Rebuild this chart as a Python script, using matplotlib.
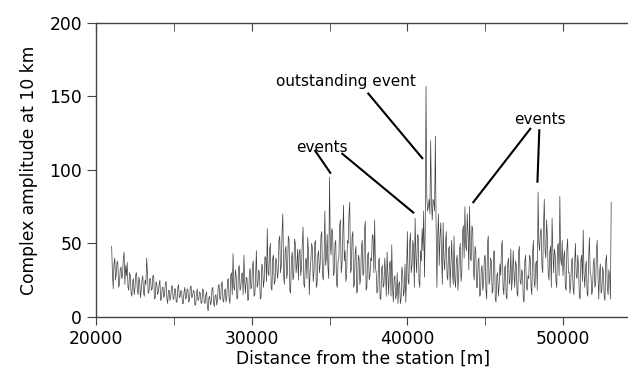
import numpy as np
import matplotlib
matplotlib.use("Agg")
import matplotlib.pyplot as plt
from matplotlib.ticker import MultipleLocator

# distance samples every 50 m, 21000 .. 53100
distance = np.arange(21000, 53101, 50)

amplitude = [
    48, 30, 19, 36, 40, 25, 30, 38, 36, 20, 22, 32, 34, 26, 28, 40, 44, 22, 35, 28,   # 21000
    37, 20, 18, 30, 28, 16, 14, 24, 26, 15, 20, 29, 30, 18, 15, 27, 24, 13, 18, 25,   # 22000
    28, 16, 14, 25, 22, 40, 30, 16, 17, 26, 26, 18, 19, 28, 28, 12, 13, 24, 22, 15,   # 23000
    17, 22, 25, 11, 12, 20, 20, 13, 15, 23, 24, 12, 9, 18, 18, 11, 14, 21, 21, 12,    # 24000
    12, 19, 19, 10, 10, 20, 22, 13, 14, 18, 17, 9, 9, 17, 20, 12, 13, 19, 18, 10,     # 25000
    11, 20, 21, 13, 14, 18, 17, 8, 8, 16, 19, 11, 12, 17, 16, 9, 10, 19, 18, 10,      # 26000
    9, 15, 17, 7, 4, 13, 14, 8, 10, 19, 20, 9, 7, 14, 15, 8, 11, 21, 22, 12,          # 27000
    12, 22, 24, 11, 10, 18, 19, 10, 14, 25, 26, 12, 9, 28, 30, 15, 43, 20, 18, 32,    # 28000
    28, 12, 13, 33, 35, 18, 20, 29, 30, 15, 42, 24, 16, 27, 26, 11, 12, 30, 33, 19,   # 29000
    20, 35, 38, 14, 15, 28, 45, 20, 22, 32, 30, 12, 13, 36, 34, 20, 25, 41, 40, 24,   # 30000
    60, 30, 28, 46, 50, 20, 18, 40, 42, 22, 24, 40, 38, 26, 30, 52, 55, 30, 35, 58,   # 31000
    70, 28, 22, 45, 48, 26, 30, 55, 52, 18, 16, 40, 44, 25, 28, 53, 50, 30, 35, 46,   # 32000
    25, 44, 46, 28, 33, 50, 61, 22, 20, 38, 40, 26, 54, 44, 15, 30, 38, 50, 47, 24,   # 33000
    30, 50, 52, 20, 22, 42, 45, 30, 36, 55, 58, 28, 25, 40, 72, 35, 40, 56, 33, 26,   # 34000
    95, 50, 42, 60, 58, 28, 30, 50, 52, 22, 20, 38, 40, 62, 66, 30, 35, 55, 76, 38,   # 35000
    45, 24, 28, 52, 50, 70, 78, 30, 32, 55, 58, 20, 22, 44, 48, 16, 18, 42, 40, 22,   # 36000
    26, 48, 52, 28, 30, 60, 65, 18, 20, 42, 44, 25, 28, 40, 38, 56, 55, 30, 66, 34,   # 37000
    30, 16, 18, 38, 40, 12, 12, 33, 35, 20, 22, 40, 30, 14, 44, 28, 15, 36, 38, 14,   # 38000
    49, 20, 10, 26, 28, 12, 15, 30, 9, 22, 24, 9, 12, 34, 30, 14, 18, 36, 10, 28,     # 39000
    58, 25, 22, 50, 57, 30, 35, 52, 48, 20, 67, 40, 30, 56, 55, 24, 20, 45, 38, 60,   # 40000
    45, 72, 27, 60, 157, 82, 72, 75, 80, 70, 120, 78, 66, 80, 78, 72, 123, 60, 20, 55,  # 41000
    70, 35, 55, 64, 40, 22, 64, 38, 32, 50, 58, 28, 25, 46, 48, 20, 36, 52, 30, 22,   # 42000
    55, 25, 20, 38, 42, 18, 28, 45, 50, 24, 30, 58, 62, 40, 75, 48, 45, 70, 56, 32,   # 43000
    75, 40, 38, 62, 60, 30, 25, 48, 45, 20, 20, 38, 40, 14, 15, 32, 35, 18, 22, 40,   # 44000
    42, 18, 12, 50, 55, 22, 25, 40, 38, 16, 18, 44, 45, 12, 10, 28, 30, 14, 22, 36,   # 45000
    28, 48, 52, 20, 15, 33, 35, 14, 12, 36, 40, 22, 25, 46, 18, 26, 45, 30, 20, 38,   # 46000
    35, 16, 14, 44, 48, 24, 22, 32, 30, 12, 10, 38, 42, 20, 18, 28, 26, 42, 40, 20,   # 47000
    15, 44, 52, 24, 20, 36, 38, 18, 85, 50, 45, 58, 60, 34, 30, 62, 80, 45, 40, 66,   # 48000
    55, 30, 25, 44, 48, 20, 67, 45, 30, 46, 42, 24, 20, 48, 50, 28, 82, 40, 35, 52,   # 49000
    28, 40, 45, 20, 18, 46, 53, 30, 30, 16, 22, 38, 40, 20, 15, 36, 50, 28, 26, 42,   # 50000
    35, 14, 12, 38, 42, 24, 59, 30, 20, 34, 38, 16, 14, 40, 54, 30, 28, 15, 18, 36,   # 51000
    40, 20, 22, 45, 52, 28, 12, 30, 36, 16, 18, 34, 30, 14, 11, 38, 42, 20, 15, 32,   # 52000
    28, 12, 78,                                                                       # 53000
]

# (label, text position, first leader line)
annotations = [
    ("outstanding event", (36050, 160), [(37490, 152), (40960, 108)]),
    ("events", (34530, 115), [(34080, 113), (35050, 98)]),
    ("events", (48550, 134), [(47900, 128), (44240, 78)]),
]
extra_lines = [
    ((35820, 111), (40380, 71)),
    ((48480, 127), (48360, 92)),
]

plt.rcParams["font.family"] = ["DejaVu Sans"]

fig = plt.figure(figsize=(6.28, 3.78), dpi=100)
ax = fig.add_axes([0.153, 0.162, 0.850, 0.777])

ax.plot(distance, amplitude, color="#404040", linewidth=0.5)

# annotation leader lines
for label, (tx, ty), (p0, p1) in annotations:
    ax.text(tx, ty, label, ha="center", va="center", fontsize=11)
    ax.plot([p0[0], p1[0]], [p0[1], p1[1]], color="black", linewidth=1.5)
for p0, p1 in extra_lines:
    ax.plot([p0[0], p1[0]], [p0[1], p1[1]], color="black", linewidth=1.5)

ax.set_xlim(20000, 54300)
ax.set_ylim(0, 200)
ax.xaxis.set_major_locator(MultipleLocator(10000))
ax.xaxis.set_minor_locator(MultipleLocator(5000))
ax.yaxis.set_major_locator(MultipleLocator(50))

for side in ("left", "bottom", "top"):
    ax.spines[side].set_color("#444444")
    ax.spines[side].set_linewidth(1.0)
ax.spines["right"].set_visible(False)

ax.tick_params(axis="x", which="both", direction="out", length=6, color="#444444",
               top=True, labelsize=12.3)
ax.tick_params(axis="y", direction="out", length=6.5, color="#444444", labelsize=12.3)

# top ticks point inward
for t in ax.xaxis.get_major_ticks() + ax.xaxis.get_minor_ticks():
    t.tick2line.set_marker(matplotlib.markers.TICKDOWN)

ax.set_xlabel("Distance from the station [m]", fontsize=12.3, labelpad=1)
ax.set_ylabel("Complex amplitude at 10 km", fontsize=12.3, labelpad=8)

fig.savefig("out.png", dpi=100)
